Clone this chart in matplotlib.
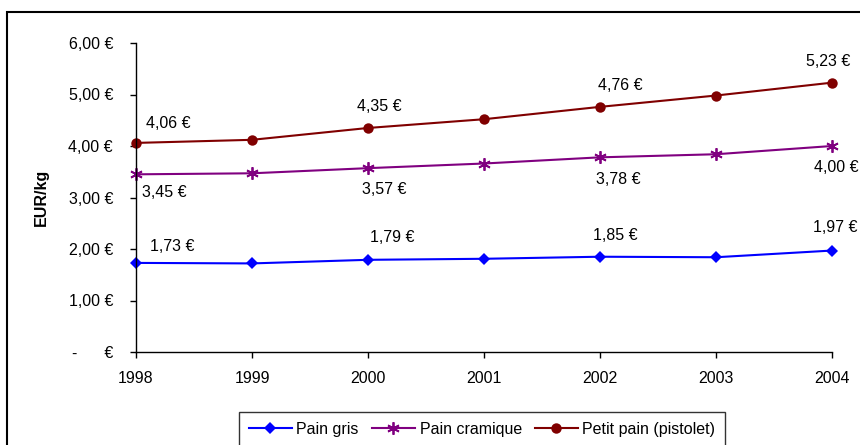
import matplotlib.pyplot as plt
from matplotlib.patches import Rectangle
from matplotlib.ticker import FuncFormatter

plt.rcParams['font.family'] = ['Liberation Sans', 'DejaVu Sans']

years = [1998, 1999, 2000, 2001, 2002, 2003, 2004]
pain_gris = [1.73, 1.72, 1.79, 1.81, 1.85, 1.84, 1.97]
pain_cramique = [3.45, 3.47, 3.57, 3.66, 3.78, 3.84, 4.00]
petit_pain = [4.06, 4.12, 4.35, 4.52, 4.76, 4.98, 5.23]
series_names = ['Pain gris', 'Pain cramique', 'Petit pain (pistolet)']

# years that carry a value label
labelled = [1998, 2000, 2002, 2004]

W, H = 860, 445
fig = plt.figure(figsize=(W / 100, H / 100), dpi=100)
ax = fig.add_axes([136 / W, 1 - 352 / H, (832 - 136) / W, (352 - 43) / H])

styles = [
    dict(color='#0000ff', marker='D', markersize=6.5, markeredgewidth=0),
    dict(color='#800080', marker=(6, 2, 0), markersize=9, markeredgewidth=1.3),
    dict(color='#800000', marker='o', markersize=7.5, markeredgewidth=0),
]
# label offsets in pixels (dx, dy) per labelled year
offsets = [
    [(36, 16), (24, 22), (15, 21), (3, 23)],
    [(28, -18), (16, -21), (18, -22), (4, -22)],
    [(32, 19), (11, 21), (20, 21), (-4, 21)],
]

for vals, name, st, offs in zip([pain_gris, pain_cramique, petit_pain],
                                 series_names, styles, offsets):
    ax.plot(years, vals, lw=1.5, label=name, clip_on=False, **st)
    for yr, (dx, dy) in zip(labelled, offs):
        v = vals[years.index(yr)]
        ax.annotate(f'{v:.2f} €'.replace('.', ','), (yr, v),
                    xytext=(dx, dy), textcoords='offset pixels',
                    ha='center', va='center', fontsize=11.5)

ax.set_xlim(1998, 2004)
ax.set_ylim(0, 6)
ax.set_xticks(years)
ax.set_yticks(range(7))


def euro(v, pos):
    if v == 0:
        return '-      €'
    return f'{v:.2f} €'.replace('.', ',')


ax.yaxis.set_major_formatter(FuncFormatter(euro))
ax.tick_params(labelsize=11.5, length=4.5, width=1, direction='out')
ax.tick_params(axis='y', pad=12)
ax.tick_params(axis='x', pad=9)
for side in ['top', 'right']:
    ax.spines[side].set_visible(False)
for side in ['left', 'bottom']:
    ax.spines[side].set_linewidth(1)
ax.set_ylabel('EUR/kg', fontsize=11.5, fontweight='bold', labelpad=14)

leg = fig.legend(loc='upper center', bbox_to_anchor=(482 / W, 1 - 412 / H),
                 ncol=3, fontsize=11.5, frameon=True, fancybox=False,
                 edgecolor='black', borderpad=0.6, handlelength=2.7,
                 handletextpad=0.3, columnspacing=0.8, borderaxespad=0)
leg.get_frame().set_linewidth(1)

fig.patches.append(Rectangle((7 / W, -0.1), 1.2, 1.1 - 12 / H,
                             transform=fig.transFigure, fill=False,
                             edgecolor='black', lw=1.5))

fig.savefig('out.png', dpi=100)
